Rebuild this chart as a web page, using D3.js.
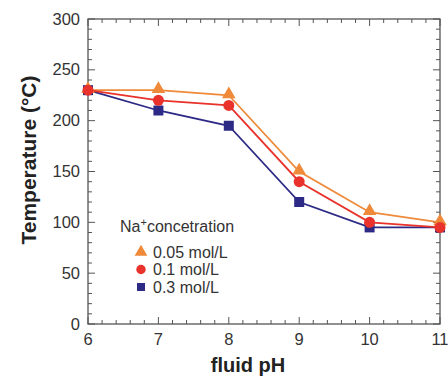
<!DOCTYPE html>
<html>
<head>
<meta charset="utf-8">
<title>Temperature vs fluid pH</title>
<script src="https://cdnjs.cloudflare.com/ajax/libs/d3/7.8.5/d3.min.js"></script>
<style>
 body { margin: 0; background: #fff; }
 text { font-family: "Liberation Sans", Arial, sans-serif; }
 .tick-label { font-size: 16.5px; fill: #333; }
 .title { font-size: 20px; font-weight: bold; fill: #222; }
 .ytitle { font-size: 21px; }
 .legend { font-size: 16px; fill: #333; }
</style>
</head>
<body>
<svg id="viz" width="448" height="377"></svg>
<script>

// data
var pH = [6, 7, 8, 9, 10, 11];
var t005 = [230, 230, 225, 150, 110, 100];
var t01  = [230, 220, 215, 140, 100, 95];
var t03  = [230, 210, 195, 120, 95, 95];

var xTicks = [6, 7, 8, 9, 10, 11];
var yTicks = [0, 50, 100, 150, 200, 250, 300];

var series = [
  { name: "0.3 mol/L",  values: t03,  color: "#2d2a86", shape: d3.symbolSquare },
  { name: "0.05 mol/L", values: t005, color: "#ee8a3a", shape: d3.symbolTriangle },
  { name: "0.1 mol/L",  values: t01,  color: "#e8322b", shape: d3.symbolCircle }
];

var svg = d3.select("#viz");

// plot box (named so they don't clash with window.top)
var plotL = 88, plotR = 440, plotT = 19, plotB = 324;

var x = d3.scaleLinear().domain([6, 11]).range([plotL, plotR]);
var y = d3.scaleLinear().domain([0, 300]).range([plotB, plotT]);

// frame
svg.append("rect")
  .attr("x", plotL).attr("y", plotT)
  .attr("width", plotR - plotL).attr("height", plotB - plotT)
  .attr("fill", "none").attr("stroke", "#555").attr("stroke-width", 1.3);

// inward ticks on all four sides
var xMinor = d3.range(6, 11.001, 0.2);
var yMinor = d3.range(0, 300.001, 10);
var tk = svg.append("g").attr("stroke", "#555").attr("stroke-width", 1);

xMinor.forEach(function(v) {
  var major = Math.abs(v - Math.round(v)) < 1e-6;
  var len = major ? 7 : 4;
  tk.append("line").attr("x1", x(v)).attr("x2", x(v)).attr("y1", plotB).attr("y2", plotB - len);
  tk.append("line").attr("x1", x(v)).attr("x2", x(v)).attr("y1", plotT).attr("y2", plotT + len);
});
yMinor.forEach(function(v) {
  var major = Math.round(v) % 50 === 0;
  var len = major ? 7 : 4;
  tk.append("line").attr("y1", y(v)).attr("y2", y(v)).attr("x1", plotL).attr("x2", plotL + len);
  tk.append("line").attr("y1", y(v)).attr("y2", y(v)).attr("x1", plotR).attr("x2", plotR - len);
});

// tick labels
svg.selectAll(".xl").data(xTicks).enter().append("text")
  .attr("class", "tick-label")
  .attr("x", function(d) { return x(d); })
  .attr("y", plotB + 21)
  .style("text-anchor", "middle")
  .text(function(d) { return d; });

svg.selectAll(".yl").data(yTicks).enter().append("text")
  .attr("class", "tick-label")
  .attr("x", plotL - 8)
  .attr("y", function(d) { return y(d) + 5.5; })
  .style("text-anchor", "end")
  .text(function(d) { return d; });

// axis titles
svg.append("text").attr("class", "title")
  .attr("x", 248).attr("y", 372)
  .style("text-anchor", "middle")
  .text("fluid pH");

svg.append("text").attr("class", "title ytitle")
  .attr("transform", "translate(36,160) rotate(-90)")
  .style("text-anchor", "middle")
  .text("Temperature (°C)");

// lines and markers
var line = d3.line()
  .x(function(d, i) { return x(pH[i]); })
  .y(function(d) { return y(d); });

series.forEach(function(s) {
  svg.append("path")
    .attr("d", line(s.values))
    .attr("fill", "none")
    .attr("stroke", s.color)
    .attr("stroke-width", 1.8);
});

series.forEach(function(s) {
  var size = s.shape === d3.symbolCircle ? 95 : (s.shape === d3.symbolTriangle ? 80 : 100);
  svg.selectAll(null).data(s.values).enter().append("path")
    .attr("transform", function(d, i) {
      var dy = s.shape === d3.symbolTriangle ? -1 : 0;
      return "translate(" + x(pH[i]) + "," + (y(d) + dy) + ")";
    })
    .attr("d", d3.symbol().type(s.shape).size(size))
    .attr("fill", s.color);
});

// legend
var lg = svg.append("g");
var head = lg.append("text").attr("class", "legend")
  .attr("x", 120).attr("y", 232);
head.append("tspan").text("Na");
head.append("tspan").attr("dy", -6).attr("font-size", 11).text("+");
head.append("tspan").attr("dy", 6).text("concetration");

var legendOrder = [series[1], series[2], series[0]];
legendOrder.forEach(function(s, i) {
  var yy = 252 + i * 17.5;
  var size = s.shape === d3.symbolCircle ? 70 : (s.shape === d3.symbolTriangle ? 70 : 64);
  lg.append("path")
    .attr("transform", "translate(141," + yy + ")")
    .attr("d", d3.symbol().type(s.shape).size(size))
    .attr("fill", s.color);
  lg.append("text").attr("class", "legend")
    .attr("x", 153).attr("y", yy + 5.5)
    .text(s.name);
});

</script>
</body>
</html>
